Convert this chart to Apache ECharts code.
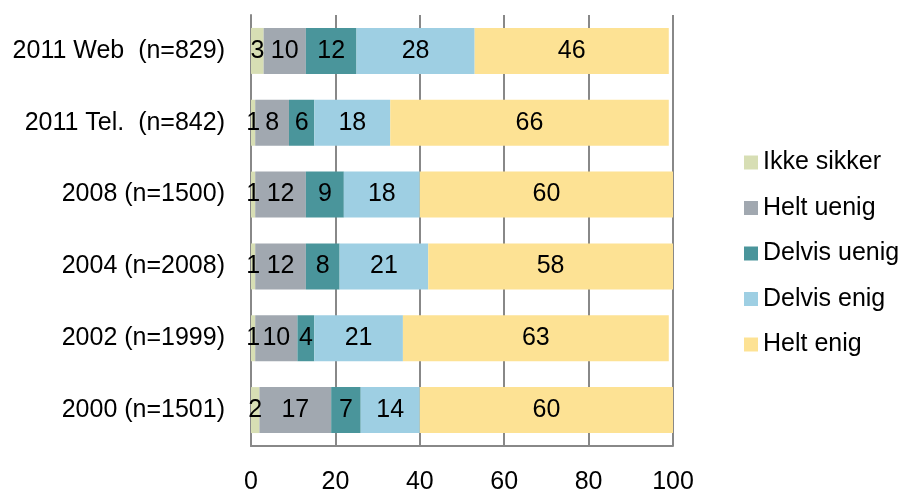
<!DOCTYPE html>
<html>
<head>
<meta charset="utf-8">
<script src="https://cdn.jsdelivr.net/npm/echarts@6/dist/echarts.min.js"></script>
<style>
html, body { margin: 0; padding: 0; background: #fff; }
#chart { width: 903px; height: 493px; }
</style>
</head>
<body>
<div id="chart"></div>
<script>
// kategorier, nederst -> øverst (y-aksen tegnes nedenfra)
const categories = ['2000 (n=1501)', '2002 (n=1999)', '2004 (n=2008)', '2008 (n=1500)', '2011 Tel.  (n=842)', '2011 Web  (n=829)']
const ikkeSikker = [2, 1, 1, 1, 1, 3]
const heltUenig = [17, 10, 12, 12, 8, 10]
const delvisUenig = [7, 4, 8, 9, 6, 12]
const delvisEnig = [14, 21, 21, 18, 18, 28]
const heltEnig = [60, 63, 58, 60, 66, 46]
const xTicks = [0, 20, 40, 60, 80, 100]

const font = 'Liberation Sans, Arial, sans-serif'

function bar(name, data, color) {
  return {
    name: name,
    type: 'bar',
    stack: 'total',
    barCategoryGap: '36%',
    data: data,
    itemStyle: { color: color },
    label: {
      show: true,
      position: 'inside',
      color: '#000',
      fontSize: 25,
      fontFamily: font
    }
  }
}

const chart = echarts.init(document.getElementById('chart'))
chart.setOption({
  animation: false,
  grid: { left: 251, right: 230, top: 15, bottom: 47, outerBoundsMode: 'none' },
  legend: {
    orient: 'vertical',
    left: 739,
    top: 145,
    itemWidth: 14,
    itemHeight: 14,
    itemGap: 20.5,
    itemStyle: { borderWidth: 0 },
    icon: 'rect',
    textStyle: { fontSize: 25, lineHeight: 25, fontFamily: font, color: '#000' },
    data: ['Ikke sikker', 'Helt uenig', 'Delvis uenig', 'Delvis enig', 'Helt enig']
  },
  xAxis: {
    type: 'value',
    min: xTicks[0],
    max: xTicks[xTicks.length - 1],
    interval: 20,
    axisLine: { show: true, lineStyle: { color: '#888', width: 2 } },
    axisTick: { show: false },
    splitLine: { show: true, lineStyle: { color: '#888', width: 2 } },
    axisLabel: { fontSize: 25, fontFamily: font, color: '#000', margin: 24 }
  },
  yAxis: {
    type: 'category',
    data: categories,
    axisLine: { show: true, lineStyle: { color: '#888', width: 2 } },
    axisTick: { show: false },
    axisLabel: { fontSize: 25, fontFamily: font, color: '#000', margin: 26 }
  },
  series: [
    bar('Ikke sikker', ikkeSikker, '#d7deb4'),
    bar('Helt uenig', heltUenig, '#a1a8b0'),
    bar('Delvis uenig', delvisUenig, '#4a959b'),
    bar('Delvis enig', delvisEnig, '#9ecfe3'),
    bar('Helt enig', heltEnig, '#fde294')
  ]
})
</script>
</body>
</html>
